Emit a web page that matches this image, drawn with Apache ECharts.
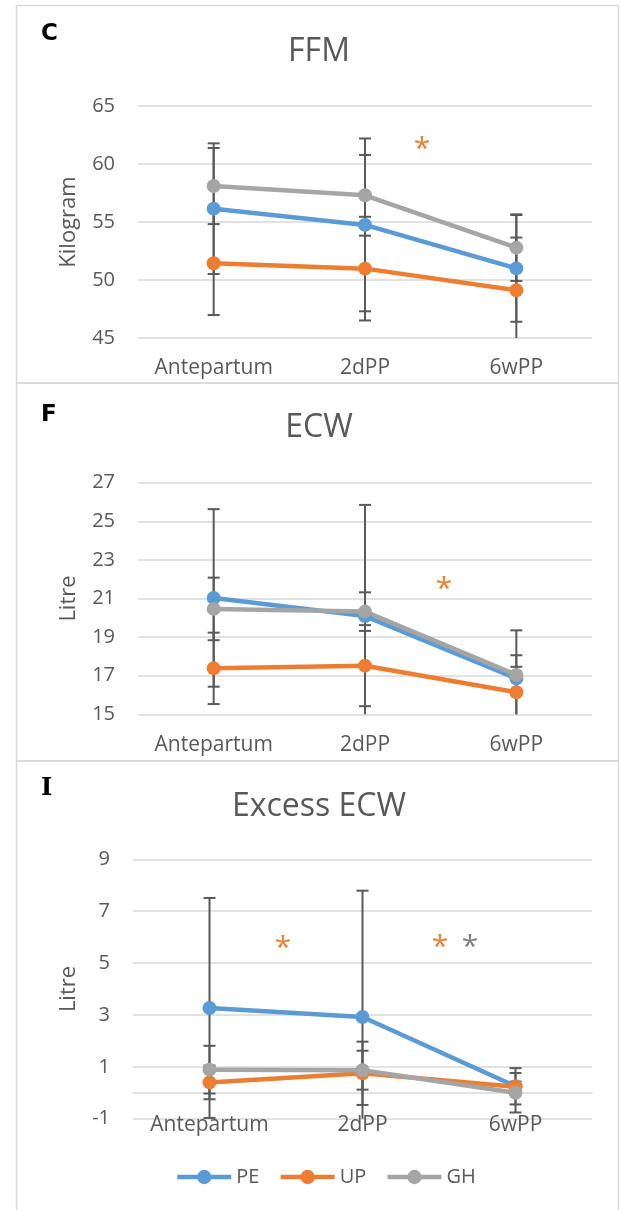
<!DOCTYPE html>
<html>
<head>
<meta charset="utf-8">
<script src="https://cdn.jsdelivr.net/npm/echarts@6/dist/echarts.min.js"></script>
<style>
  html, body { margin: 0; padding: 0; background: #fff; }
  #chart { width: 621px; height: 1210px; }
</style>
</head>
<body>
<div id="chart"></div>
<script>
// Time points
const categories = ['Antepartum', '2dPP', '6wPP'];
const groups = ['PE', 'UP', 'GH'];

// FFM (kg): group means and standard deviations
const ffmPE = [56.15, 54.75, 51.0];
const ffmUP = [51.44, 50.98, 49.11];
const ffmGH = [58.1, 57.3, 52.79];
const ffmPEsd = [5.63, 7.45, 4.6];
const ffmUPsd = [4.46, 4.47, 4.55];
const ffmGHsd = [3.28, 3.48, 2.87];

// ECW (L)
const ecwPE = [21.03, 20.09, 16.86];
const ecwUP = [17.38, 17.52, 16.14];
const ecwGH = [20.46, 20.32, 17.04];
const ecwPEsd = [4.6, 5.76, 2.49];
const ecwUPsd = [1.85, 2.1, 1.32];
const ecwGHsd = [1.62, 1.0, 1.02];

// Excess ECW (L)
const exPE = [3.27, 2.92, 0.25];
const exUP = [0.4, 0.75, 0.23];
const exGH = [0.89, 0.87, 0.0];
const exPEsd = [4.24, 4.87, 0.7];
const exUPsd = [0.65, 1.22, 0.2];
const exGHsd = [0.92, 0.75, 0.76];

// Y axis ticks per panel
const ffmTicks = { min: 45, max: 65, step: 5 };
const ecwTicks = { min: 15, max: 27, step: 2 };
const exTicks = { min: -1, max: 9, step: 2 };

const COLORS = { PE: '#5B9BD5', UP: '#ED7D31', GH: '#A5A5A5' };
const TEXT = '#595959';
const GRID = '#D9D9D9';
const FONT = 'Open Sans';

const panels = [
  { title: 'FFM', letter: 'C', unit: 'Kilogram', ticks: ffmTicks,
    means: { PE: ffmPE, UP: ffmUP, GH: ffmGH }, sds: { PE: ffmPEsd, UP: ffmUPsd, GH: ffmGHsd },
    grid: { left: 138, width: 454, top: 106, height: 232 }, nameGap: 58, zeroLine: false, labelMargin: 20 },
  { title: 'ECW', letter: 'F', unit: 'Litre', ticks: ecwTicks,
    means: { PE: ecwPE, UP: ecwUP, GH: ecwGH }, sds: { PE: ecwPEsd, UP: ecwUPsd, GH: ecwGHsd },
    grid: { left: 138, width: 454, top: 482.7, height: 231.6 }, nameGap: 58, zeroLine: false, labelMargin: 20 },
  { title: 'Excess ECW', letter: 'I', unit: 'Litre', ticks: exTicks,
    means: { PE: exPE, UP: exUP, GH: exGH }, sds: { PE: exPEsd, UP: exUPsd, GH: exGHsd },
    grid: { left: 133, width: 459, top: 859.3, height: 259.4 }, nameGap: 53, zeroLine: true, labelMargin: -4 }
];

// vertical error bar with caps, clipped to the plotting area
function renderErrorBar(params, api) {
  const cs = params.coordSys;
  const top = cs.y, bottom = cs.y + cs.height;
  const idx = api.value(0);
  const pLo = api.coord([idx, api.value(1)]);
  const pHi = api.coord([idx, api.value(2)]);
  const x = pLo[0];
  const yLo = Math.min(pLo[1], bottom);
  const yHi = Math.max(pHi[1], top);
  const style = { stroke: '#595959', lineWidth: 2 };
  const half = 6;
  const children = [{ type: 'line', shape: { x1: x, y1: yHi, x2: x, y2: yLo }, style }];
  if (pLo[1] <= bottom) children.push({ type: 'line', shape: { x1: x - half, y1: yLo, x2: x + half, y2: yLo }, style });
  if (pHi[1] >= top) children.push({ type: 'line', shape: { x1: x - half, y1: yHi, x2: x + half, y2: yHi }, style });
  return { type: 'group', children };
}

const grids = [], xAxes = [], yAxes = [], series = [];
panels.forEach((p, i) => {
  grids.push(Object.assign({ containLabel: false }, p.grid));
  xAxes.push({
    type: 'category', gridIndex: i, data: categories, boundaryGap: true,
    axisLine: { show: p.zeroLine, onZero: true, lineStyle: { color: GRID, width: 1.5 } },
    axisTick: { show: false },
    axisLabel: { color: TEXT, fontSize: 21, fontFamily: FONT, margin: p.labelMargin,
                 interval: 0, hideOverlap: false }
  });
  yAxes.push({
    type: 'value', gridIndex: i, min: p.ticks.min, max: p.ticks.max, interval: p.ticks.step,
    name: p.unit, nameLocation: 'middle', nameGap: p.nameGap,
    nameTextStyle: { color: TEXT, fontSize: 22, fontFamily: FONT },
    axisLine: { show: false }, axisTick: { show: false },
    axisLabel: { color: TEXT, fontSize: 20, fontFamily: FONT, margin: 23 },
    splitLine: { lineStyle: { color: GRID, width: 1.5 } }
  });
  // error bars underneath all lines
  groups.forEach(g => {
    series.push({
      type: 'custom', name: g + ' SD', xAxisIndex: i, yAxisIndex: i, z: 1, silent: true,
      renderItem: renderErrorBar,
      encode: { x: 0, y: [1, 2] },
      data: p.means[g].map((m, k) => [k, m - p.sds[g][k], m + p.sds[g][k]])
    });
  });
  groups.forEach(g => {
    series.push({
      type: 'line', name: g, xAxisIndex: i, yAxisIndex: i, z: 3,
      data: p.means[g], symbol: 'circle', symbolSize: 14,
      itemStyle: { color: COLORS[g] },
      lineStyle: { color: COLORS[g], width: 4.5 },
      emphasis: { disabled: true }
    });
  });
});

// panel frames, letters, titles and significance marks
const graphic = [
  { type: 'rect', shape: { x: 16.5, y: 5.5, width: 602, height: 377.5 }, style: { fill: 'none', stroke: GRID, lineWidth: 1.5 }, z: 0 },
  { type: 'rect', shape: { x: 16.5, y: 383, width: 602, height: 378 }, style: { fill: 'none', stroke: GRID, lineWidth: 1.5 }, z: 0 },
  { type: 'rect', shape: { x: 16.5, y: 761, width: 602, height: 460 }, style: { fill: 'none', stroke: GRID, lineWidth: 1.5 }, z: 0 }
];
function label(text, x, y, font, fill, align) {
  return { type: 'text', x, y, z: 10, style: {
    text, font, fill,
    align: align || 'center', textAlign: align || 'center',
    verticalAlign: 'middle', textVerticalAlign: 'middle' } };
}
graphic.push(label('C', 41, 34, 'bold 23px "DejaVu Sans"', '#000', 'left'));
graphic.push(label('F', 41, 415, 'bold 23px "DejaVu Sans"', '#000', 'left'));
graphic.push(label('I', 41, 789, 'bold 24px "DejaVu Serif"', '#000', 'left'));
graphic.push(label('FFM', 319, 52, '32px "Open Sans"', TEXT));
graphic.push(label('ECW', 319, 428, '32px "Open Sans"', TEXT));
graphic.push(label('Excess ECW', 319, 807, '32px "Open Sans"', TEXT));
graphic.push(label('*', 422, 149, '30px "Open Sans"', COLORS.UP));
graphic.push(label('*', 444, 589, '30px "Open Sans"', COLORS.UP));
graphic.push(label('*', 283, 948, '30px "Open Sans"', COLORS.UP));
graphic.push(label('*', 440, 947, '30px "Open Sans"', COLORS.UP));
graphic.push(label('*', 470, 947, '30px "Open Sans"', '#7F7F7F'));

const chart = echarts.init(document.getElementById('chart'), null, { renderer: 'canvas' });
chart.setOption({
  animation: false,
  textStyle: { fontFamily: FONT },
  grid: grids,
  xAxis: xAxes,
  yAxis: yAxes,
  legend: {
    data: groups, left: 175, top: 1167, padding: 0, orient: 'horizontal',
    itemWidth: 54, itemHeight: 18, itemGap: 19,
    lineStyle: { width: 4.5 },
    textStyle: { color: TEXT, fontSize: 20, fontFamily: FONT }
  },
  graphic,
  series
});
</script>
</body>
</html>
